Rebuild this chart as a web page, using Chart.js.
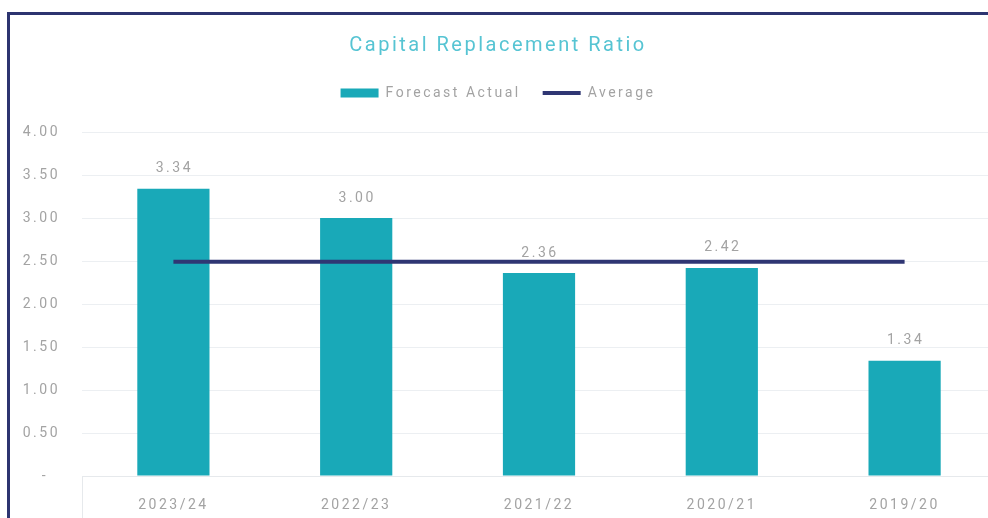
<!DOCTYPE html>
<html>
<head>
<meta charset="utf-8">
<title>Capital Replacement Ratio</title>
<script src="https://cdn.jsdelivr.net/npm/chart.js@4.4.1/dist/chart.umd.min.js"></script>
<style>
  html, body { margin: 0; padding: 0; background: #fff; overflow: hidden; }
  body { width: 988px; height: 518px; position: relative; }
  .card {
    position: absolute; left: 7px; top: 12px; right: -10px; bottom: -10px;
    border-top: 3px solid #2d3470; border-left: 3px solid #2d3470;
  }
  .wrap { position: absolute; left: 0; top: 0; width: 996px; height: 518px; }
</style>
</head>
<body>
<div class="card"></div>
<div class="wrap"><canvas id="ratioChart"></canvas></div>
<script>
const years = ['2023/24', '2022/23', '2021/22', '2020/21', '2019/20'];
const forecastActual = [3.34, 3.00, 2.36, 2.42, 1.34];
const average = [2.49, 2.49, 2.49, 2.49, 2.49];

const greyText = '#a3a3a3';
const fontFamily = "Roboto, 'Open Sans', sans-serif";
const spacing = '2.5px';

// the reference text is widely spaced, so stretch it on the canvas
const wideText = {
  id: 'wideText',
  beforeUpdate(chart) { chart.ctx.letterSpacing = spacing; },
  beforeLayout(chart) { chart.ctx.letterSpacing = spacing; },
  beforeDraw(chart) { chart.ctx.letterSpacing = spacing; }
};

// extra room between legend and plot
const legendGap = {
  id: 'legendGap',
  beforeInit(chart) {
    const fit = chart.legend.fit;
    chart.legend.fit = function () {
      fit.call(this);
      this.height += 22;
    };
  }
};

// value labels above the bars
const barLabels = {
  id: 'barLabels',
  afterDatasetsDraw(chart) {
    const ctx = chart.ctx;
    const meta = chart.getDatasetMeta(0);
    ctx.save();
    ctx.letterSpacing = spacing;
    ctx.fillStyle = greyText;
    ctx.font = '14px ' + fontFamily;
    ctx.textAlign = 'center';
    ctx.textBaseline = 'middle';
    meta.data.forEach(function (bar, i) {
      ctx.fillText(forecastActual[i].toFixed(2), bar.x + 1, bar.y - 20);
    });
    ctx.restore();
  }
};

// little edge line under the x axis on the left
const axisEdge = {
  id: 'axisEdge',
  afterDraw(chart) {
    const ctx = chart.ctx;
    const a = chart.chartArea;
    ctx.save();
    ctx.strokeStyle = '#e6e9ec';
    ctx.lineWidth = 1;
    ctx.beginPath();
    ctx.moveTo(a.left + 0.5, a.bottom);
    ctx.lineTo(a.left + 0.5, chart.height);
    ctx.stroke();
    ctx.restore();
  }
};

new Chart(document.getElementById('ratioChart'), {
  data: {
    labels: years,
    datasets: [{
      type: 'bar',
      label: 'Forecast Actual',
      data: forecastActual,
      backgroundColor: '#19a9b8',
      borderWidth: 0,
      categoryPercentage: 1,
      barPercentage: 0.395,
      pointStyle: 'rect',
      order: 2
    }, {
      type: 'line',
      label: 'Average',
      data: average,
      borderColor: '#2f3673',
      backgroundColor: '#2f3673',
      borderWidth: 4,
      pointRadius: 0,
      pointStyle: 'line',
      order: 1
    }]
  },
  options: {
    responsive: true,
    maintainAspectRatio: false,
    animation: false,
    layout: { padding: { top: 34, bottom: 7, left: 0, right: 0 } },
    plugins: {
      title: {
        display: true,
        text: 'Capital Replacement Ratio',
        color: '#56c4d3',
        font: { size: 20, family: fontFamily, weight: 'normal' },
        padding: { top: 0, bottom: 6 }
      },
      legend: {
        position: 'top',
        labels: {
          usePointStyle: true,
          pointStyleWidth: 38,
          boxHeight: 9,
          padding: 22,
          color: greyText,
          font: { size: 14, family: fontFamily },
          sort: function (a, b) { return a.datasetIndex - b.datasetIndex; }
        }
      },
      tooltip: { enabled: false }
    },
    scales: {
      x: {
        afterFit(axis) { axis.height = 35; },
        grid: { display: false },
        border: { display: true, color: '#e6e9ec' },
        ticks: { color: greyText, padding: 13, font: { size: 14, family: fontFamily } }
      },
      y: {
        min: 0,
        max: 4,
        afterFit(axis) { axis.width = 82; },
        grid: { color: '#eceff2', drawTicks: false },
        border: { display: false },
        ticks: {
          stepSize: 0.5,
          padding: 22,
          color: greyText,
          font: { size: 14, family: fontFamily },
          callback: function (v) { return v === 0 ? '-  ' : v.toFixed(2); }
        }
      }
    }
  },
  plugins: [wideText, legendGap, barLabels, axisEdge]
});
</script>
</body>
</html>
